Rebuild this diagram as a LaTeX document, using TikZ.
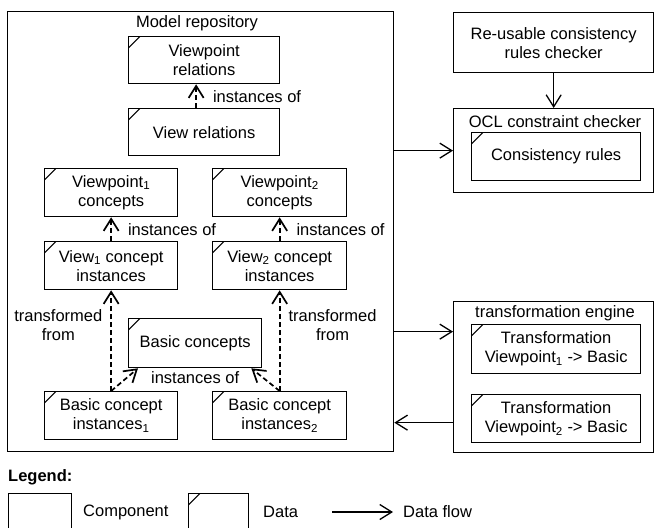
\documentclass[tikz,border=0pt]{standalone}
\usepackage{fontspec}
\setmainfont{Liberation Sans}
\usetikzlibrary{arrows.meta}

\tikzset{
  compbox/.style={draw, line width=1.3bp, rectangle, inner sep=0pt, align=center, anchor=north west},
  datbox/.style={compbox, path picture={
      \draw[line width=1bp] ([yshift=-11bp]path picture bounding box.north west)
        -- ([xshift=11bp]path picture bounding box.north west);}},
  flow/.style={-{Straight Barb[length=12bp,width=15bp]}, line width=1.3bp},
  inst/.style={flow, line width=1.7bp, dash pattern=on 5bp off 3bp},
  txt/.style={inner sep=0pt, align=center}
}

\begin{document}
\begin{tikzpicture}[x=1bp, y=-1bp, font=\fontsize{16.5bp}{19bp}\selectfont]
    \useasboundingbox (0,0) rectangle (654,528);
    % model repository
    \node[compbox, minimum width=386bp, minimum height=440bp] (repo) at (7,11) {};
    \node[txt] (repolabel) at (197,23) {Model repository};
    \node[datbox, minimum width=151bp, minimum height=47bp] (vprel) at (128,36) {Viewpoint\\relations};
    \node[datbox, minimum width=151bp, minimum height=47bp] (viewrel) at (128,108) {View relations};
    \node[datbox, minimum width=133bp, minimum height=48bp] (vpone) at (44,168) {Viewpoint\textsubscript{1}\\concepts};
    \node[datbox, minimum width=134bp, minimum height=48bp] (vptwo) at (212,168) {Viewpoint\textsubscript{2}\\concepts};
    \node[datbox, minimum width=133bp, minimum height=48bp] (viewone) at (44,241) {View\textsubscript{1} concept\\instances};
    \node[datbox, minimum width=134bp, minimum height=48bp] (viewtwo) at (212,241) {View\textsubscript{2} concept\\instances};
    \node[datbox, minimum width=133bp, minimum height=49bp] (basic) at (128,318) {Basic concepts};
    \node[datbox, minimum width=133bp, minimum height=48bp] (bcione) at (44,391) {Basic concept\\instances\textsubscript{1}};
    \node[datbox, minimum width=134bp, minimum height=48bp] (bcitwo) at (212,391) {Basic concept\\instances\textsubscript{2}};

    \draw[inst] ([xshift=-8bp]viewrel.north) -- node[txt, right=16bp] (instrel) {instances of} ([xshift=-8bp]vprel.south);
    \draw[inst] (viewone.north) -- node[txt, right=16bp] (instone) {instances of} (vpone.south);
    \draw[inst] (viewtwo.north) -- node[txt, right=16bp] (insttwo) {instances of} (vptwo.south);
    \draw[inst] (bcione.north) -- node[txt, left=8bp, pos=0.65] (trfone) {transformed\\from} (viewone.south);
    \draw[inst] (bcitwo.north) -- node[txt, right=8bp, pos=0.65] (trftwo) {transformed\\from} (viewtwo.south);
    \draw[inst] (bcione.north) -- ([xshift=10bp]basic.south west);
    \draw[inst] (bcitwo.north) -- ([xshift=-11bp]basic.south east);
    \node[txt, below=3bp] (instbasic) at (basic.south) {instances of};

    % checkers and engine
    \node[compbox, minimum width=200bp, minimum height=60bp] (reuse) at (453,12) {Re-usable consistency\\rules checker};
    \node[compbox, minimum width=200bp, minimum height=84bp] (ocl) at (453,108) {};
    \node[txt] (ocllabel) at (555,122) {OCL constraint checker};
    \node[datbox, minimum width=169bp, minimum height=48bp] (rules) at (471,132) {Consistency rules};
    \node[compbox, minimum width=200bp, minimum height=151bp] (teng) at (453,301) {};
    \node[txt] (tenglabel) at (555,313) {transformation engine};
    \node[datbox, minimum width=169bp, minimum height=49bp] (trone) at (471,324) {Transformation\\Viewpoint\textsubscript{1} -> Basic};
    \node[datbox, minimum width=169bp, minimum height=48bp] (trtwo) at (471,394) {Transformation\\Viewpoint\textsubscript{2} -> Basic};

    \coordinate (tengin) at ([yshift=45.5bp]teng.west);
    \coordinate (tengout) at ([yshift=-45.5bp]teng.west);
    \draw[flow] (reuse.south) -- (ocl.north);
    \draw[flow] (repo.east |- ocl.west) -- (ocl.west);
    \draw[flow] (repo.east |- tengin) -- (tengin);
    \draw[flow] (tengout) -- (repo.east |- tengout);

    % legend
    \node[txt, anchor=west, font=\bfseries\fontsize{16.5bp}{19bp}\selectfont] (legend) at (8,477) {Legend:};
    \node[compbox, minimum width=63bp, minimum height=50bp] (legcomp) at (8,493) {};
    \node[txt, anchor=west] (legcomptext) at (83,512) {Component};
    \node[datbox, minimum width=60bp, minimum height=50bp] (legdata) at (188,493) {};
    \node[txt, anchor=west] (legdatatext) at (263,512) {Data};
    \coordinate (legflowa) at (332,512);
    \coordinate (legflowb) at (393,512);
    \draw[flow] (legflowa) -- (legflowb);
    \node[txt, anchor=west] (legflowtext) at (403,512) {Data flow};
\end{tikzpicture}
\end{document}
